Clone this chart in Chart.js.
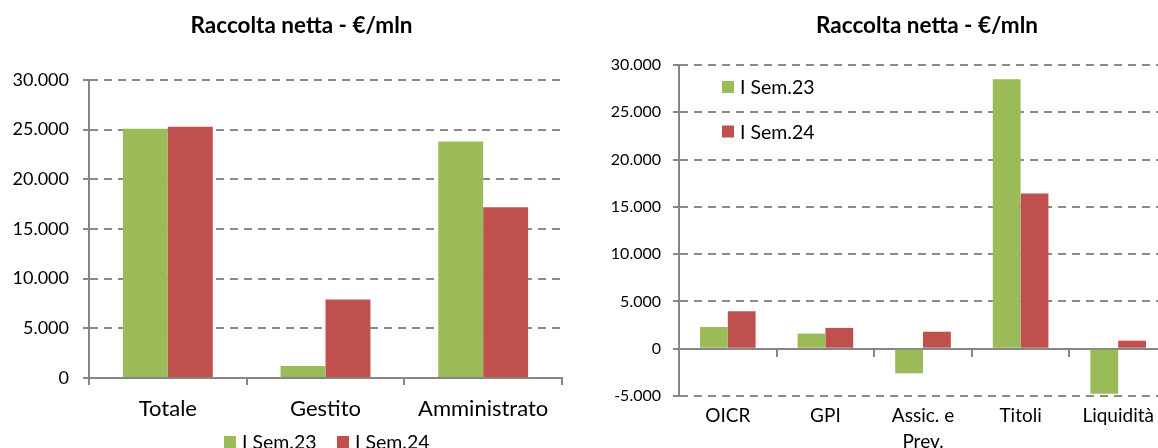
<!DOCTYPE html>
<html><head><meta charset="utf-8">
<script src="https://cdn.jsdelivr.net/npm/chart.js@4/dist/chart.umd.min.js"></script>
<style>
html,body{margin:0;padding:0;background:#fff;overflow:hidden;width:1158px;height:448px;}
#l{position:absolute;left:0;top:0;}
#r{position:absolute;left:590px;top:0;}
</style></head><body>
<canvas id="l" width="603" height="448"></canvas>
<canvas id="r" width="674" height="448"></canvas>
<script>
// ---- data ----
const chartTitle = 'Raccolta netta - €/mln';
const seriesNames = ['I Sem.23', 'I Sem.24'];
const leftCategories = ['Totale', 'Gestito', 'Amministrato'];
const leftSem23 = [25100, 1200, 23800];
const leftSem24 = [25300, 7900, 17200];
const leftTickValues = [0, 5000, 10000, 15000, 20000, 25000, 30000];
const rightCategories = ['OICR', 'GPI', ['Assic. e', 'Prev.'], 'Titoli', 'Liquidità'];
const rightSem23 = [2300, 1600, -2600, 28500, -4750];
const rightSem24 = [3950, 2200, 1800, 16400, 850];
const rightTickValues = [-5000, 0, 5000, 10000, 15000, 20000, 25000, 30000];

// ---- styles ----
const GREEN = '#9BBB59', RED = '#C0504D', AXIS = '#868686', GRID = '#8a8a8a';
const FONT = 'Lato';
Chart.defaults.font.family = FONT;
Chart.defaults.color = '#000';

const fmt = v => String(v).replace(/\B(?=(\d{3})+(?!\d))/g, '.');

const boxLegend = {
  id: 'boxLegend',
  afterDraw(chart, args, o) {
    const ctx = chart.ctx;
    ctx.save();
    ctx.font = o.font;
    ctx.textBaseline = 'middle';
    ctx.textAlign = 'left';
    chart.data.datasets.forEach((ds, i) => {
      const x = o.x + i * o.dx, y = o.y + i * o.dy;
      ctx.fillStyle = ds.backgroundColor;
      ctx.fillRect(x, y - o.box / 2, o.box, o.box);
      ctx.fillStyle = '#000';
      ctx.fillText(ds.label, x + o.box + o.gap, y + 1);
    });
    ctx.restore();
  }
};

const fixedTitle = {
  id: 'fixedTitle',
  afterDraw(chart, args, o) {
    const ctx = chart.ctx;
    ctx.save();
    ctx.font = o.font;
    ctx.fillStyle = '#000';
    ctx.textAlign = 'center';
    ctx.textBaseline = 'alphabetic';
    ctx.fillText(o.text, o.x, o.y);
    ctx.restore();
  }
};

function makeDatasets(a, b) {
  return [
    {label: seriesNames[0], data: a, backgroundColor: GREEN, borderWidth: 0, categoryPercentage: 0.57, barPercentage: 1},
    {label: seriesNames[1], data: b, backgroundColor: RED, borderWidth: 0, categoryPercentage: 0.57, barPercentage: 1}
  ];
}

function yScale(tickVals, fontSize, pad, width) {
  return {
    min: tickVals[0], max: tickVals[tickVals.length - 1],
    afterBuildTicks: s => { s.ticks = tickVals.map(v => ({value: v})); },
    afterFit: s => { s.width = width; },
    ticks: {font: {size: fontSize}, padding: pad, callback: v => fmt(v), color: '#000'},
    grid: {color: GRID, lineWidth: 2, tickLength: 6, tickColor: AXIS, tickBorderDash: []},
    border: {display: true, color: AXIS, width: 2, dash: [8, 6]}
  };
}

// ---- left chart ----
new Chart(document.getElementById('l'), {
  type: 'bar',
  data: {labels: leftCategories, datasets: makeDatasets(leftSem23, leftSem24)},
  options: {
    responsive: false, animation: false, devicePixelRatio: 1,
    layout: {padding: {left: 0, right: 41, top: 80, bottom: 0}},
    plugins: {
      legend: {display: false}, tooltip: {enabled: false}, title: {display: false},
      fixedTitle: {text: chartTitle, x: 301.5, y: 33, font: 'bold 22.5px Lato'},
      boxLegend: {x: 224, y: 442, dx: 113, dy: 0, box: 12, gap: 6, font: '19.5px Lato'}
    },
    scales: {
      x: {
        offset: true,
        afterFit: s => { s.height = 70; },
        ticks: {font: {size: 22}, padding: 11, color: '#000'},
        grid: {offset: true, drawOnChartArea: false, tickLength: 7, color: AXIS, lineWidth: 2},
        border: {display: true, color: AXIS, width: 2}
      },
      y: yScale(leftTickValues, 18, 14, 89)
    }
  },
  plugins: [boxLegend, fixedTitle]
});

// ---- right chart ----
new Chart(document.getElementById('r'), {
  type: 'bar',
  data: {labels: rightCategories, datasets: makeDatasets(rightSem23, rightSem24)},
  options: {
    responsive: false, animation: false, devicePixelRatio: 1,
    layout: {padding: {left: 0, right: 97, top: 65, bottom: 0}},
    plugins: {
      legend: {display: false}, tooltip: {enabled: false}, title: {display: false},
      fixedTitle: {text: chartTitle, x: 337, y: 33, font: 'bold 22.5px Lato'},
      boxLegend: {x: 132, y: 87, dx: 0, dy: 44.5, box: 12, gap: 6, font: '19.5px Lato'}
    },
    scales: {
      x: {
        offset: true,
        afterFit: s => { s.height = 52; },
        ticks: {font: {size: 19, lineHeight: 1.37}, padding: 7, color: '#000'},
        grid: {display: false, drawTicks: false},
        border: {display: false}
      },
      x0: {
        type: 'category', position: {y: 0}, offset: true,
        ticks: {display: false},
        grid: {offset: true, drawOnChartArea: false, tickLength: 7, color: AXIS, lineWidth: 2},
        border: {display: true, color: AXIS, width: 2}
      },
      y: yScale(rightTickValues, 16, 12, 89)
    }
  },
  plugins: [boxLegend, fixedTitle]
});
</script>
</body></html>
